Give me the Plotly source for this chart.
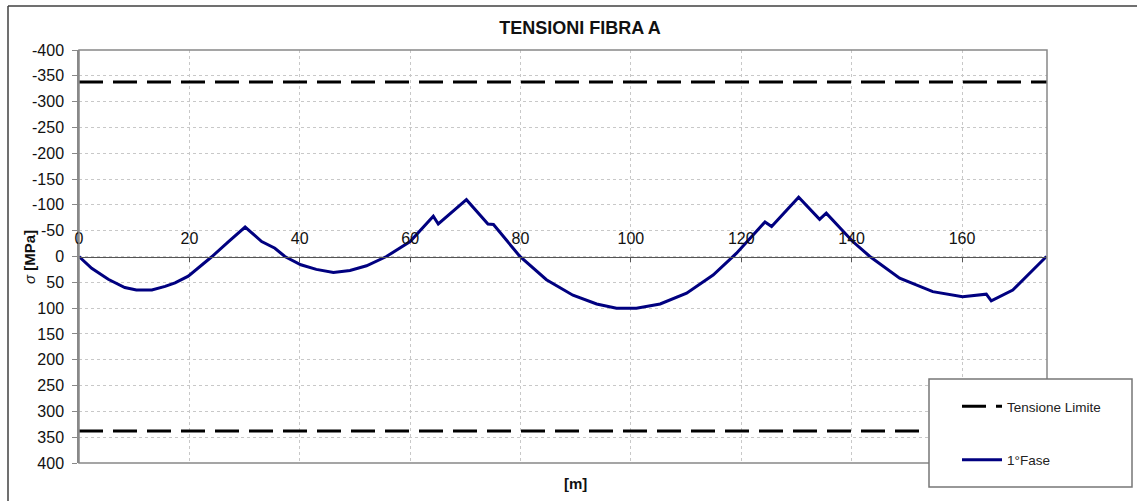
import plotly.graph_objects as go

# ---- data ----
x_m = [0, 2.3, 5.3, 8.3, 10.4, 13.2, 15.6, 17.4, 19.8, 24.0, 27.1, 30.1, 33.1, 35.5,
       37.3, 40.2, 43.0, 46.1, 49.1, 52.1, 55.7, 60.0, 64.2, 65.1, 70.2, 74.1, 75.1,
       79.9, 84.7, 89.5, 93.8, 97.4, 101.0, 105.3, 110.1, 114.9, 119.1, 124.3, 125.5,
       130.4, 134.2, 135.4, 140.2, 143.3, 148.7, 154.7, 160.1, 164.4, 165.3, 169.2, 175.3]
sigma_fase1 = [0, 23, 44, 60, 65, 65, 58, 51, 38, 1, -29, -57, -29, -16,
               0, 16, 25, 31, 27, 18, 0, -29, -78, -63, -110, -63, -62,
               0, 45, 75, 92, 100, 100, 92, 71, 36, -6, -67, -58,
               -115, -72, -84, -29, 0, 42, 68, 78, 73, 86, 65, 0]
limit_value = 338
x_end = 175.4
y_ticks = list(range(-400, 401, 50))
y_tick_labels = [str(v) for v in y_ticks]
x_ticks = list(range(0, 161, 20))

FONT = "Arial, Liberation Sans, sans-serif"

fig = go.Figure()
fig.add_trace(go.Scatter(
    x=[0, x_end, None, 0, x_end],
    y=[-limit_value, -limit_value, None, limit_value, limit_value],
    mode="lines", name="Tensione Limite", legendgroup="a",
    line=dict(color="black", width=3, dash="24px,10px"),
))
fig.add_trace(go.Scatter(
    x=x_m, y=sigma_fase1, mode="lines", name="1°Fase", legendgroup="b",
    line=dict(color="#000080", width=3),
))

L, R, T, B = 79, 90, 50, 38
W, H = 1137, 501
pw, ph = W - L - R, H - T - B

def px_x(p):
    return (p - L) / pw

def px_y(p):
    return (H - B - p) / ph

fig.update_layout(
    width=W, height=H,
    margin=dict(l=L, r=R, t=T, b=B, autoexpand=False),
    paper_bgcolor="white", plot_bgcolor="white",
    font=dict(family=FONT, color="#000000"),
    title=dict(text="<b>TENSIONI FIBRA A</b>", x=580 / W, xanchor="center",
               xref="container", y=1 - 28 / H, yanchor="middle",
               font=dict(size=18, family=FONT, color="#111111")),
    xaxis=dict(range=[0, x_end], tickvals=x_ticks, anchor="free", position=0.5,
               side="top", ticks="inside", ticklen=4, tickcolor="#555555",
               ticklabelstandoff=6,
               showline=True, linecolor="#555555", linewidth=1,
               showgrid=True, gridcolor="#c8c8c8", griddash="dot", gridwidth=1,
               zeroline=False, tickfont=dict(size=16, family=FONT, color="#111111")),
    yaxis=dict(range=[400, -400], tickvals=y_ticks, ticktext=y_tick_labels,
               ticks="outside", ticklen=5, ticklabelstandoff=5,
               tickcolor="#888888", showline=True, linecolor="#888888", linewidth=1.5,
               showgrid=True, gridcolor="#c8c8c8", griddash="dot", gridwidth=1,
               zeroline=False, tickfont=dict(size=16, family=FONT, color="#111111")),
    showlegend=True,
    legend=dict(x=px_x(957), xanchor="left", y=px_y(391), yanchor="top",
                bgcolor="rgba(0,0,0,0)", borderwidth=0, itemwidth=40,
                tracegroupgap=33, font=dict(size=13.5, family=FONT, color="#222222")),
)

shapes = [
    # plot frame
    dict(type="rect", xref="paper", yref="paper", x0=0, x1=1, y0=0, y1=1,
         line=dict(color="#888888", width=1.5), layer="above"),
    # legend box
    dict(type="rect", xref="paper", yref="paper", x0=px_x(929), x1=px_x(1132),
         y0=px_y(487), y1=px_y(379), fillcolor="white",
         line=dict(color="#777777", width=1.5), layer="above"),
    # outer chart border
    dict(type="line", xref="paper", yref="paper", x0=px_x(8), x1=px_x(1140),
         y0=px_y(6), y1=px_y(6), line=dict(color="#404040", width=1.5)),
    dict(type="line", xref="paper", yref="paper", x0=px_x(8), x1=px_x(8),
         y0=px_y(6), y1=px_y(505), line=dict(color="#404040", width=1.5)),
]
fig.update_layout(shapes=shapes)

fig.add_annotation(text="<b>[m]</b>", xref="paper", yref="paper",
                   x=px_x(575), y=px_y(483), xanchor="center", yanchor="middle",
                   showarrow=False, font=dict(size=15, family=FONT, color="#111111"))
fig.add_annotation(text="<i>σ</i> <b>[MPa]</b>", xref="paper", yref="paper",
                   x=px_x(29), y=px_y(257), xanchor="center", yanchor="middle",
                   textangle=-90, showarrow=False,
                   font=dict(size=15, family=FONT, color="#111111"))

fig.write_html("out.html", config={"displayModeBar": False},
               post_script="document.body.style.margin='0';document.body.style.overflow='hidden';")
